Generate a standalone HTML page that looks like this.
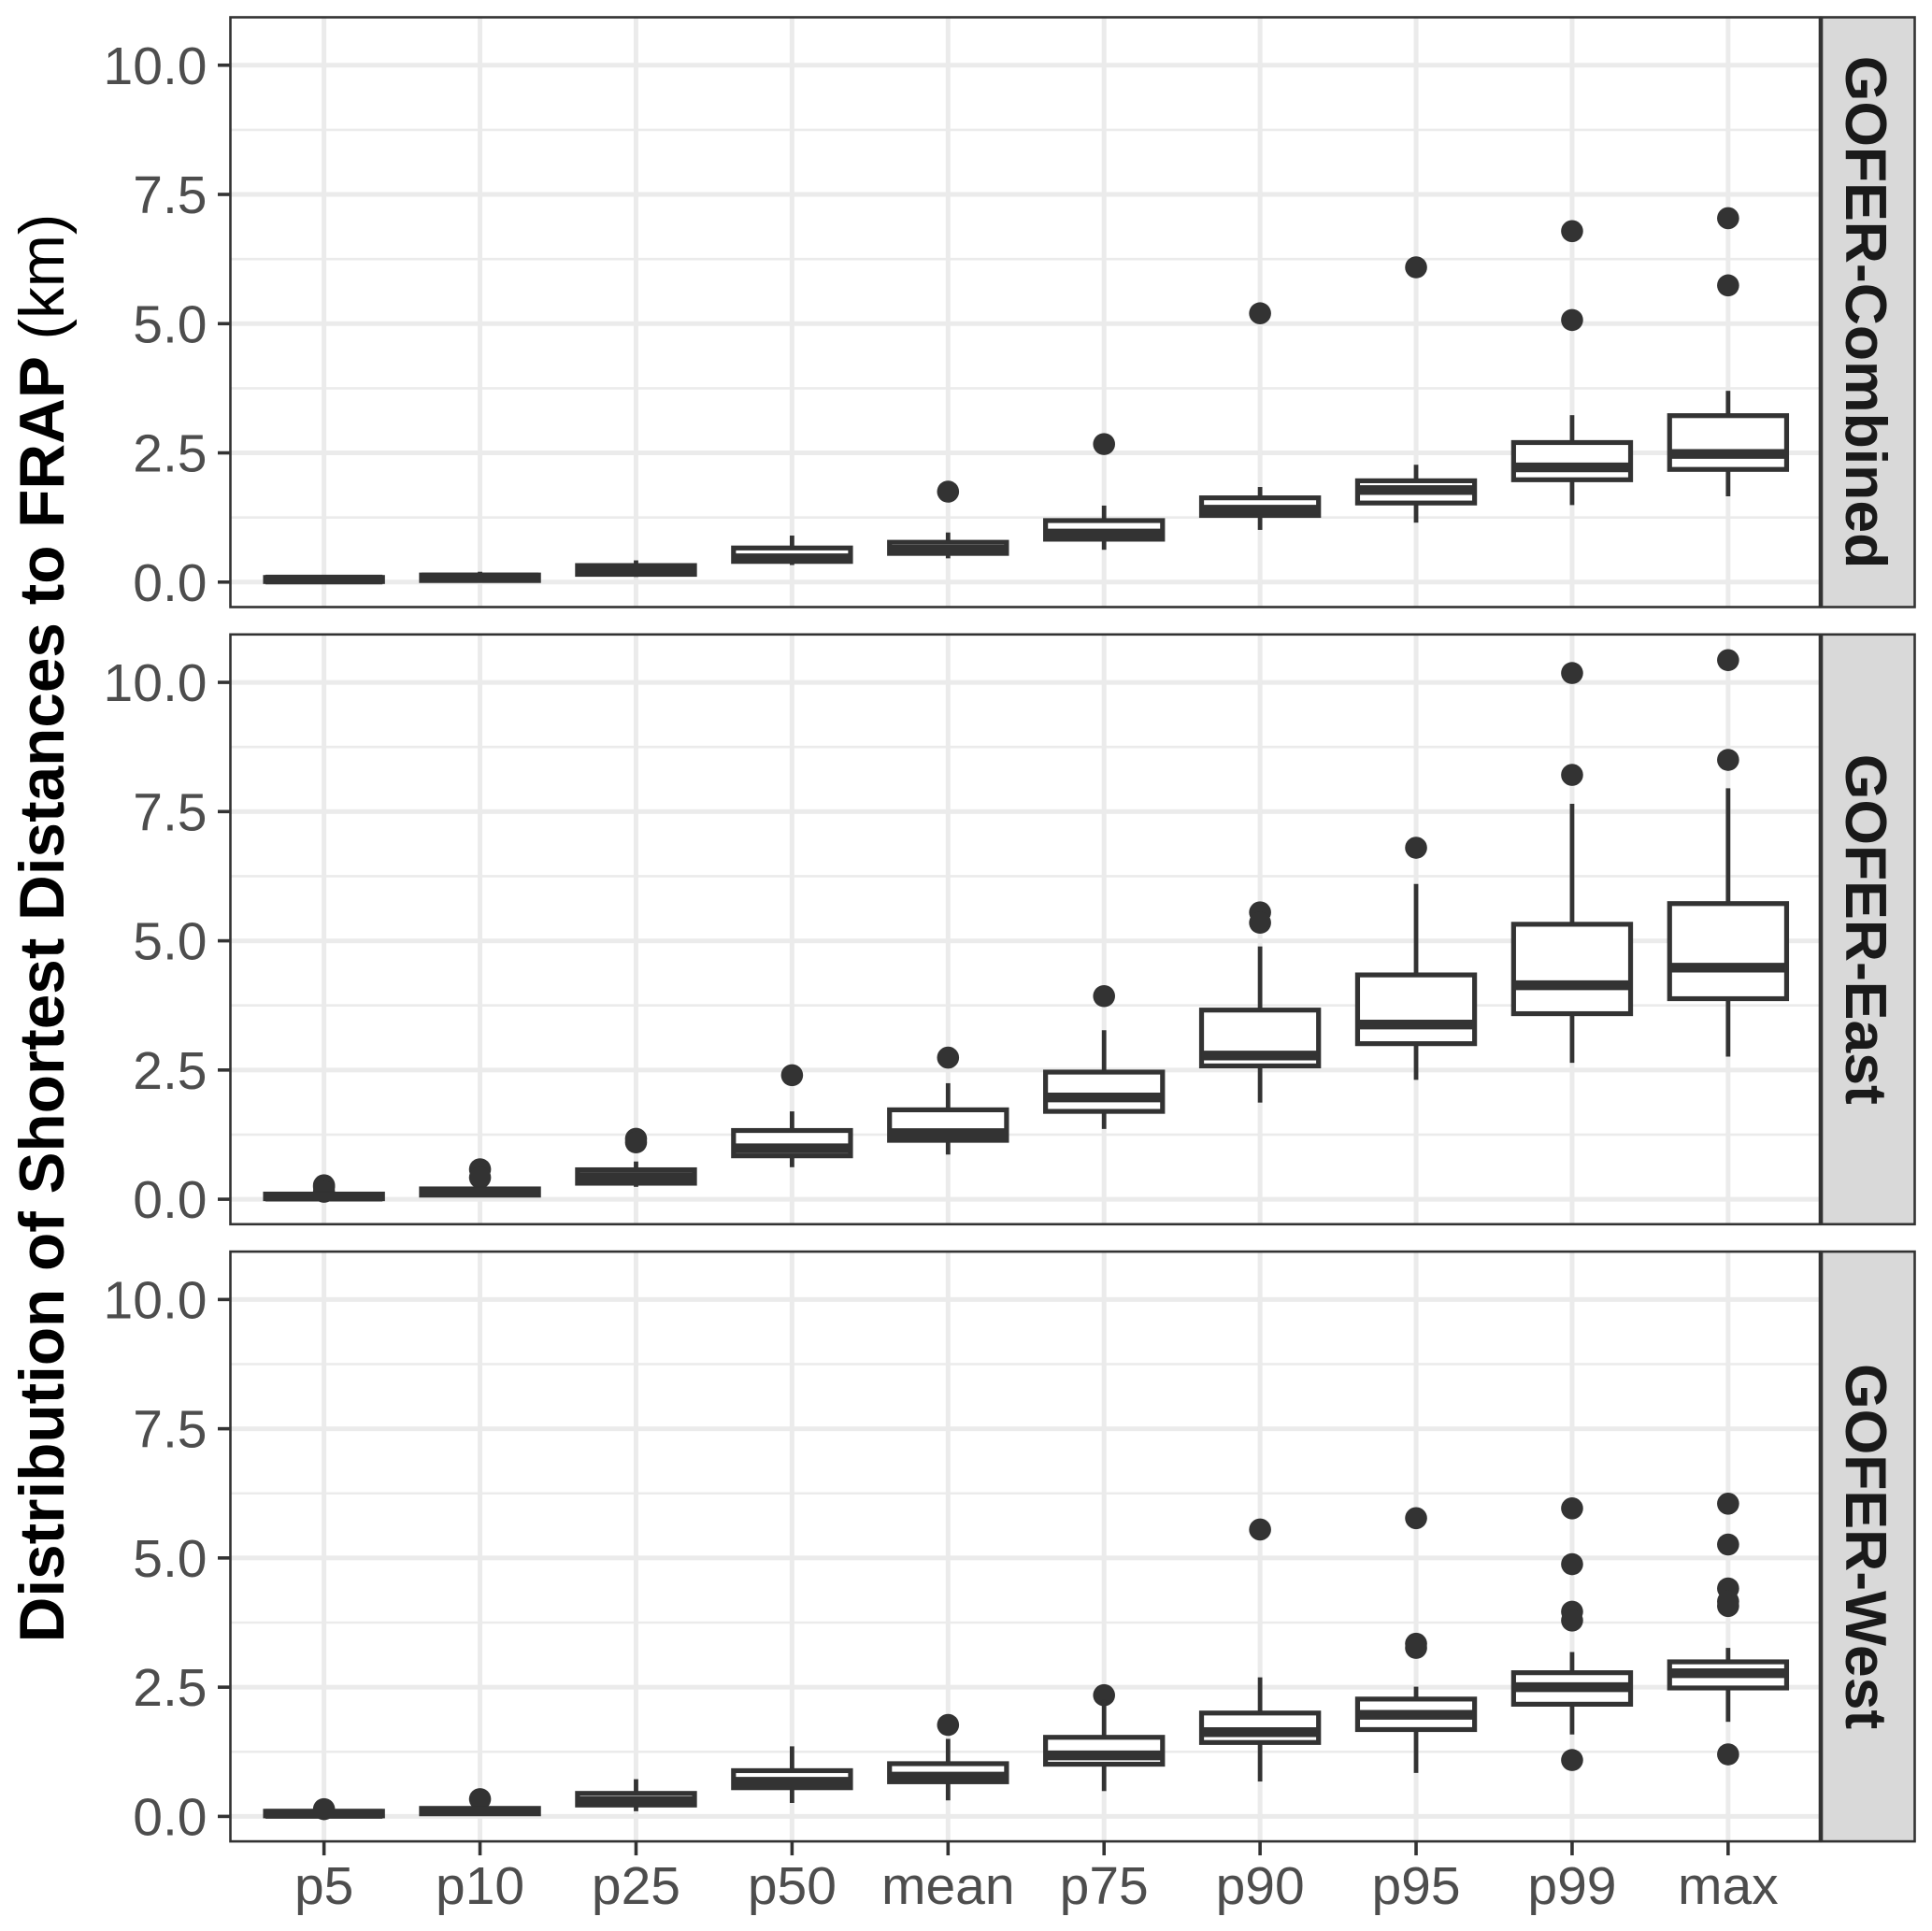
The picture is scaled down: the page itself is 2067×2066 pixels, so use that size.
<!DOCTYPE html>
<html lang="en">
<head>
<meta charset="utf-8">
<title>Distribution of Shortest Distances to FRAP</title>
<style>
html,body{margin:0;padding:0;background:#fff;}
svg{display:block;font-family:"Liberation Sans",Arial,sans-serif;}
</style>
</head>
<body>
<svg id="chart" xmlns="http://www.w3.org/2000/svg" width="2067" height="2066" viewBox="0 0 2067 2066">
<rect x="0" y="0" width="2067" height="2066" fill="#ffffff"/>
<text transform="translate(68,993) rotate(-90)" text-anchor="middle" font-size="67.5" font-weight="700" fill="#000000">Distribution of Shortest Distances to FRAP <tspan font-weight="400">(km)</tspan></text>
</svg>
<script>
const categories = ['p5','p10','p25','p50','mean','p75','p90','p95','p99','max'];
const panelNames = ['GOFER-Combined','GOFER-East','GOFER-West'];
const yTicks = [0, 2.5, 5, 7.5, 10];
const yTickLabels = ['0.0','2.5','5.0','7.5','10.0'];
const yMinorTicks = [1.25, 3.75, 6.25, 8.75];

const combinedQ1 = [0.01,0.03,0.15,0.40,0.555,0.83,1.29,1.53,1.98,2.18];
const combinedMedian = [0.05,0.09,0.23,0.46,0.625,0.94,1.40,1.78,2.22,2.48];
const combinedQ3 = [0.09,0.137,0.32,0.66,0.77,1.19,1.63,1.96,2.70,3.22];
const combinedWhiskerLow = [0,0.02,0.10,0.33,0.46,0.625,1.01,1.15,1.49,1.66];
const combinedWhiskerHigh = [0.10,0.20,0.42,0.90,0.96,1.48,1.84,2.27,3.23,3.70];
const combinedOutliers = [[],[],[],[],[1.75],[2.67],[5.2],[6.09],[6.79,5.07],[7.04,5.74]];

const eastQ1 = [0.01,0.08,0.31,0.84,1.14,1.70,2.58,3.01,3.59,3.88];
const eastMedian = [0.05,0.14,0.43,0.985,1.28,1.97,2.78,3.38,4.14,4.48];
const eastQ3 = [0.10,0.20,0.57,1.33,1.73,2.46,3.66,4.34,5.32,5.72];
const eastWhiskerLow = [0,0.05,0.24,0.62,0.865,1.36,1.87,2.31,2.64,2.76];
const eastWhiskerHigh = [0.12,0.24,0.73,1.70,2.245,3.27,4.89,6.10,7.65,7.95];
const eastOutliers = [[0.27,0.24,0.145],[0.58,0.42],[1.17,1.10],[2.40],[2.74],[3.93],[5.55,5.35],[6.80],[10.18,8.21],[10.43,8.50]];

const westQ1 = [0.01,0.05,0.22,0.555,0.67,1.01,1.43,1.68,2.17,2.485];
const westMedian = [0.05,0.10,0.295,0.67,0.77,1.18,1.63,1.965,2.50,2.77];
const westQ3 = [0.10,0.155,0.445,0.885,1.02,1.53,2.0,2.27,2.78,2.99];
const westWhiskerLow = [0,0.03,0.10,0.26,0.31,0.49,0.675,0.84,1.585,1.83];
const westWhiskerHigh = [0.11,0.17,0.72,1.356,1.50,2.25,2.69,2.51,3.18,3.26];
const westOutliers = [[0.14],[0.335],[],[],[1.77],[2.345],[5.55],[5.77,3.34,3.26],[5.96,4.88,3.96,3.79,1.09],[6.05,5.26,4.41,4.16,4.07,1.20]];

const panelQ1 = [combinedQ1,eastQ1,westQ1];
const panelMedian = [combinedMedian,eastMedian,westMedian];
const panelQ3 = [combinedQ3,eastQ3,westQ3];
const panelWhiskerLow = [combinedWhiskerLow,eastWhiskerLow,westWhiskerLow];
const panelWhiskerHigh = [combinedWhiskerHigh,eastWhiskerHigh,westWhiskerHigh];
const panelOutliers = [combinedOutliers,eastOutliers,westOutliers];

const SVG_NS = 'http://www.w3.org/2000/svg';
const svg = document.getElementById('chart');
const plotLeft = 246.5, plotRight = 1947, xRangeRight = 1949, stripLeft = 1949, stripRight = 2048.5;
const panelHeight = 631, firstPanelTop = 18.5, panelStep = 660.3;
const yDomainMin = -0.483, yDomainMax = 10.927;
const xDomainMin = 0.4, xDomainMax = 10.6;
const boxWidth = 0.75;
const INK = '#333333', GRID = '#ebebeb';

function panelTop(p){ return firstPanelTop + p * panelStep; }
function xScale(i){ return plotLeft + (i + 1 - xDomainMin) / (xDomainMax - xDomainMin) * (xRangeRight - plotLeft); }
function yScale(p, v){ return panelTop(p) + panelHeight - (v - yDomainMin) / (yDomainMax - yDomainMin) * panelHeight; }
function make(tag, attrs, parent){
  const node = document.createElementNS(SVG_NS, tag);
  for (const k in attrs) node.setAttribute(k, attrs[k]);
  parent.appendChild(node);
  return node;
}

panelNames.forEach(function(name, p){
  const top = panelTop(p), bottom = top + panelHeight;
  const slug = name.toLowerCase();

  const group = make('g', {}, svg);
  
  

  const bg = make('rect', {x:plotLeft, y:top, width:plotRight-plotLeft, height:panelHeight, fill:'#ffffff'}, group);
  
  

  yMinorTicks.forEach(function(v){
    const g = make('line', {x1:plotLeft, x2:plotRight, y1:yScale(p,v), y2:yScale(p,v), stroke:GRID, 'stroke-width':2.6}, group);
    
    
  });
  yTicks.forEach(function(v){
    const g = make('line', {x1:plotLeft, x2:plotRight, y1:yScale(p,v), y2:yScale(p,v), stroke:GRID, 'stroke-width':5}, group);
    
    
  });
  categories.forEach(function(c, i){
    const g = make('line', {x1:xScale(i), x2:xScale(i), y1:top, y2:bottom, stroke:GRID, 'stroke-width':5}, group);
    
    
  });

  categories.forEach(function(c, i){
    const x = xScale(i);
    const half = boxWidth / 2 * (xScale(1) - xScale(0));
    const boxGroup = make('g', {}, group);
    
    

    panelOutliers[p][i].forEach(function(v){
      const dot = make('circle', {cx:x, cy:yScale(p,v), r:11.8, fill:INK}, boxGroup);
      
      
    });

    const whiskerUp = make('line', {x1:x, x2:x, y1:yScale(p,panelQ3[p][i]), y2:yScale(p,panelWhiskerHigh[p][i]), stroke:INK, 'stroke-width':4.8}, boxGroup);
    
    

    const whiskerDown = make('line', {x1:x, x2:x, y1:yScale(p,panelQ1[p][i]), y2:yScale(p,panelWhiskerLow[p][i]), stroke:INK, 'stroke-width':4.8}, boxGroup);
    
    

    const yq3 = yScale(p,panelQ3[p][i]), yq1 = yScale(p,panelQ1[p][i]);
    const box = make('rect', {x:x-half, y:yq3, width:half*2, height:yq1-yq3, fill:'#ffffff', stroke:INK, 'stroke-width':5.2}, boxGroup);
    
    

    const med = make('line', {x1:x-half, x2:x+half, y1:yScale(p,panelMedian[p][i]), y2:yScale(p,panelMedian[p][i]), stroke:INK, 'stroke-width':10.4}, boxGroup);
    
    
  });

  const border = make('rect', {x:plotLeft, y:top, width:plotRight-plotLeft, height:panelHeight, fill:'none', stroke:INK, 'stroke-width':2.6}, group);
  
  

  const strip = make('rect', {x:stripLeft, y:top, width:stripRight-stripLeft, height:panelHeight, fill:'#d9d9d9', stroke:INK, 'stroke-width':2.6}, group);
  
  

  const stripCx = 1975, stripCy = top + panelHeight / 2;
  const stripText = make('text', {transform:'translate(' + stripCx + ',' + stripCy + ') rotate(90)', 'text-anchor':'middle', 'font-size':62.5, 'font-weight':700, fill:'#1a1a1a'}, group);
  stripText.textContent = name;
  
  

  yTicks.forEach(function(v, k){
    const tick = make('line', {x1:233, x2:plotLeft, y1:yScale(p,v), y2:yScale(p,v), stroke:INK, 'stroke-width':3.6}, group);
    
    

    const label = make('text', {x:221.5, y:yScale(p,v)+20, 'text-anchor':'end', 'font-size':57, fill:'#4d4d4d'}, group);
    label.textContent = yTickLabels[k];
    
    
  });
});

categories.forEach(function(c, i){
  const axisY = panelTop(2) + panelHeight;
  const tick = make('line', {x1:xScale(i), x2:xScale(i), y1:axisY, y2:axisY+15, stroke:INK, 'stroke-width':3.6}, svg);
  
  

  const label = make('text', {x:xScale(i), y:2037, 'text-anchor':'middle', 'font-size':57, fill:'#4d4d4d'}, svg);
  label.textContent = c;
  
  
});
</script>
</body>
</html>
